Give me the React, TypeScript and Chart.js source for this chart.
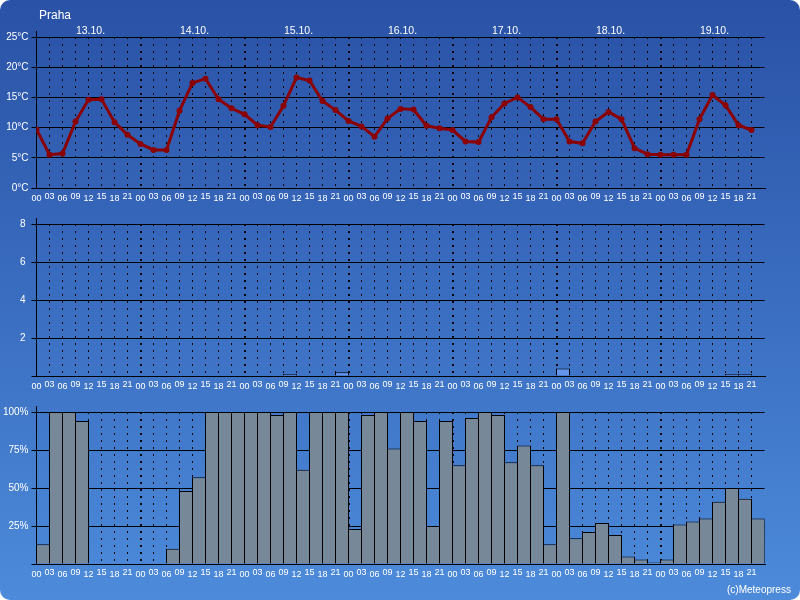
import React, { useEffect, useRef } from "react";
import { Chart, registerables } from "chart.js";

Chart.register(...registerables);

const FONT = '"Liberation Sans", Arial, Helvetica, sans-serif';

const cityName = "Praha";
const credit = "(c)Meteopress";
const hours = ["00", "03", "06", "09", "12", "15", "18", "21"];
const days = ["13.10.", "14.10.", "15.10.", "16.10.", "17.10.", "18.10.", "19.10."];
const timeLabels = days.flatMap(() => hours);

// temperature (°C) at each 3-hour step
const temperature = [
  9.7, 5.5, 5.7, 11.0, 14.6, 14.7, 10.9, 8.8,
  7.3, 6.3, 6.3, 12.8, 17.4, 18.1, 14.7, 13.2,
  12.2, 10.4, 10.1, 13.6, 18.3, 17.8, 14.4, 12.9,
  11.1, 10.2, 8.5, 11.5, 13.1, 13.0, 10.3, 9.9,
  9.6, 7.7, 7.6, 11.7, 14.0, 15.0, 13.4, 11.4,
  11.4, 7.7, 7.4, 11.0, 12.6, 11.4, 6.6, 5.6,
  5.5, 5.5, 5.5, 11.4, 15.4, 13.7, 10.4, 9.6,
];

// precipitation (mm) per 3-hour interval
const precipitation = [
  0, 0, 0, 0, 0, 0, 0, 0,
  0, 0, 0, 0, 0, 0, 0, 0,
  0, 0, 0, 0.1, 0, 0, 0, 0.2,
  0, 0, 0, 0, 0, 0, 0, 0,
  0, 0, 0, 0, 0, 0, 0, 0,
  0.4, 0, 0, 0, 0, 0, 0, 0,
  0, 0, 0, 0, 0, 0.1, 0.1, 0,
];

// cloud cover (%) per 3-hour interval
const cloudCover = [
  13, 100, 100, 94, 0, 0, 0, 0,
  0, 0, 10, 48, 57, 100, 100, 100,
  100, 100, 98, 100, 62, 100, 100, 100,
  23, 98, 100, 76, 100, 94, 25, 94,
  65, 96, 100, 98, 67, 78, 65, 13,
  100, 17, 21, 27, 19, 5, 3, 1,
  3, 26, 28, 30, 41, 50, 43, 30,
];

const AREA_LEFT = 36.5;
const AREA_RIGHT_PAD = 35.5;

const xScale = (h: number) => ({
  type: "linear",
  min: 0,
  max: timeLabels.length,
  offset: false,
  ticks: { display: false, stepSize: 1, autoSkip: false },
  grid: {
    offset: false,
    drawTicks: false,
    color: (c: any) =>
      c.tick && c.tick.value > 0 && c.tick.value < timeLabels.length ? "rgba(0,0,0,0.95)" : "rgba(0,0,0,0)",
    lineWidth: (c: any) => (c.tick && c.tick.value % hours.length === 0 ? 2 : 1),
  },
  border: { display: true, color: "#000", width: 1, dash: [2, 5] },
  afterFit: (s: any) => {
    s.height = h;
    s.paddingLeft = 0;
    s.paddingRight = 0;
    s.paddingTop = 0;
    s.paddingBottom = 0;
  },
});

const yScale = (min: number, max: number, step: number, fmt: (v: number) => string, pad: number) => ({
  min,
  max,
  ticks: { stepSize: step, color: "#fff", font: { family: FONT, size: 10 }, padding: pad, callback: (v: any) => fmt(Number(v)) },
  grid: { color: "#000", lineWidth: 1, drawTicks: true, tickLength: 5, tickColor: "#000" },
  border: { display: true, color: "#000", width: 1 },
  afterFit: (s: any) => {
    s.width = AREA_LEFT;
    s.paddingTop = 0;
    s.paddingBottom = 0;
    s.paddingLeft = 0;
    s.paddingRight = 0;
  },
});

const overlay = (opts: { title?: boolean; daysRow?: boolean; credit?: boolean }) => ({
  id: "overlay",
  afterDraw(chart: any) {
    const { ctx, chartArea } = chart;
    const x = chart.scales.x;
    ctx.save();
    // axis stub above the plot
    ctx.strokeStyle = "#000";
    ctx.lineWidth = 1;
    ctx.beginPath();
    const ax = Math.round(chartArea.left - 0.5) + 0.5;
    ctx.moveTo(ax, chartArea.top - 6);
    ctx.lineTo(ax, chartArea.top);
    ctx.stroke();
    // hour labels
    ctx.fillStyle = "#fff";
    ctx.textAlign = "center";
    ctx.textBaseline = "alphabetic";
    ctx.font = `9px ${FONT}`;
    timeLabels.forEach((lab, i) => {
      ctx.fillText(lab, x.getPixelForValue(i), chartArea.bottom + (i % 2 === 0 ? 12.5 : 10.5));
    });
    if (opts.daysRow) {
      ctx.font = `10.5px ${FONT}`;
      days.forEach((d, i) => {
        ctx.fillText(d, x.getPixelForValue(i * hours.length + hours.length / 2) + 2, 34);
      });
    }
    if (opts.title) {
      ctx.textAlign = "left";
      ctx.font = `12px ${FONT}`;
      ctx.fillText(cityName, 39, 18.5);
    }
    if (opts.credit) {
      ctx.textAlign = "left";
      ctx.font = `10px ${FONT}`;
      ctx.fillText(credit, 727, 193);
    }
    ctx.restore();
  },
});

const common = {
  responsive: false,
  animation: false,
  devicePixelRatio: 1,
  events: [],
  plugins: { legend: { display: false }, tooltip: { enabled: false }, title: { display: false } },
};

function tempConfig(): any {
  return {
    type: "line",
    data: {
      datasets: [
        {
          data: temperature.map((v, i) => ({ x: i, y: v })),
          borderColor: "#8b0000",
          backgroundColor: "#8b0000",
          borderWidth: 3,
          pointRadius: 3,
          pointBorderWidth: 0,
          tension: 0,
        },
      ],
    },
    options: {
      ...common,
      layout: { padding: { top: 37, left: 0, right: AREA_RIGHT_PAD, bottom: 0 } },
      scales: {
        x: xScale(22),
        y: yScale(0, 25, 5, (v) => `${v}°C`, 3),
      },
    },
    plugins: [overlay({ title: true, daysRow: true })],
  };
}

function barDataset(values: number[], color: string) {
  return {
    data: values.map((v, i) => ({ x: i + 0.5, y: v })),
    backgroundColor: color,
    borderColor: "#000",
    borderWidth: 1,
    borderSkipped: "start",
    barPercentage: 14 / 13,
    categoryPercentage: 1,
    inflateAmount: 0,
  };
}

function precipConfig(): any {
  return {
    type: "bar",
    data: { datasets: [barDataset(precipitation, "#6495ed")] },
    options: {
      ...common,
      layout: { padding: { top: 14, left: 0, right: AREA_RIGHT_PAD, bottom: 0 } },
      scales: {
        x: xScale(24),
        y: yScale(0, 8, 2, (v) => (v === 0 ? "" : `${v}`), 6),
      },
    },
    plugins: [overlay({})],
  };
}

function cloudConfig(): any {
  return {
    type: "bar",
    data: { datasets: [barDataset(cloudCover, "#778899")] },
    options: {
      ...common,
      layout: { padding: { top: 12, left: 0, right: AREA_RIGHT_PAD, bottom: 0 } },
      scales: {
        x: xScale(36),
        y: yScale(0, 100, 25, (v) => (v === 0 ? "" : `${v}%`), 3),
      },
    },
    plugins: [overlay({ credit: true })],
  };
}

export default function App() {
  const r1 = useRef<HTMLCanvasElement>(null);
  const r2 = useRef<HTMLCanvasElement>(null);
  const r3 = useRef<HTMLCanvasElement>(null);

  useEffect(() => {
    const charts = [
      new Chart(r1.current as HTMLCanvasElement, tempConfig()),
      new Chart(r2.current as HTMLCanvasElement, precipConfig()),
      new Chart(r3.current as HTMLCanvasElement, cloudConfig()),
    ];
    return () => charts.forEach((c) => c.destroy());
  }, []);

  const cv = (top: number, h: number): React.CSSProperties => ({
    position: "absolute",
    left: 0,
    top,
    width: 800,
    height: h,
    display: "block",
  });

  return (
    <div
      style={{
        position: "fixed",
        left: 0,
        top: 0,
        width: 800,
        height: 600,
        borderRadius: 10,
        overflow: "hidden",
        background: "linear-gradient(to bottom, #2a52a6 0%, #3a6dc0 50%, #4d8bda 100%)",
      }}
    >
      <canvas ref={r1} width={800} height={210} style={cv(0, 210)} />
      <canvas ref={r2} width={800} height={190} style={cv(210, 190)} />
      <canvas ref={r3} width={800} height={200} style={cv(400, 200)} />
    </div>
  );
}
